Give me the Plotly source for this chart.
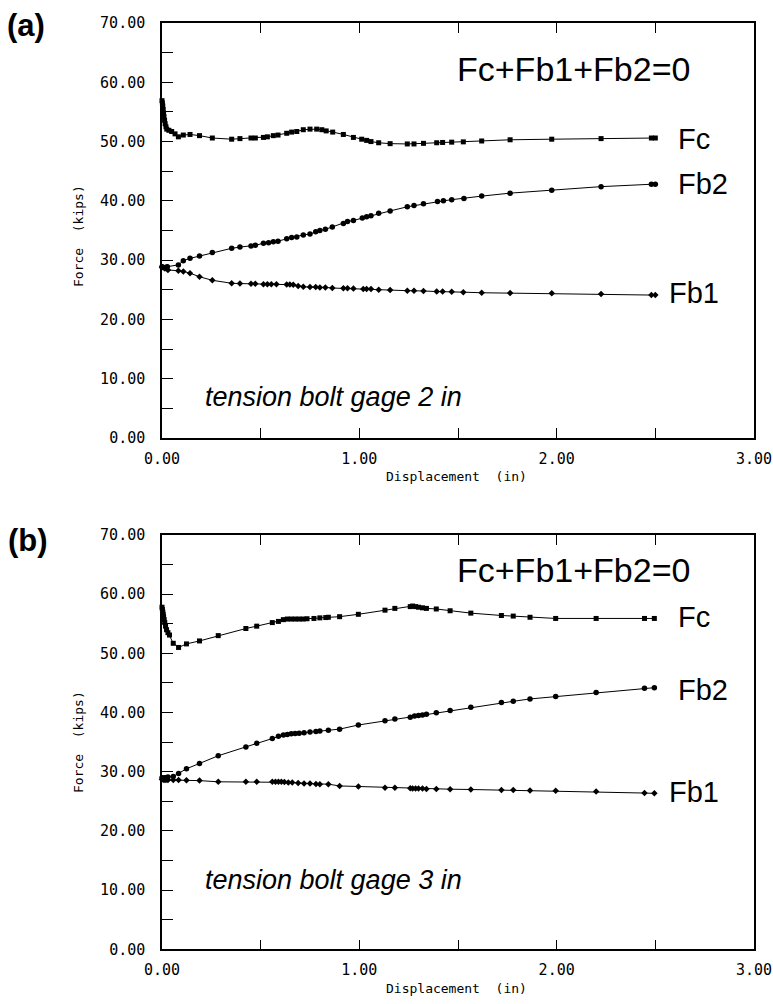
import plotly.graph_objects as go

# ---------------- data: panel (a) tension bolt gage 2 in ----------------
a_fc_x = [0, 0.002, 0.004, 0.006, 0.008, 0.010, 0.013, 0.016, 0.020, 0.024, 0.035, 0.049, 0.066,
          0.083, 0.108, 0.142, 0.19, 0.255, 0.353, 0.395, 0.451, 0.473, 0.514, 0.534, 0.564, 0.588,
          0.632, 0.657, 0.683, 0.716, 0.75, 0.784, 0.81, 0.832, 0.865, 0.919, 0.97, 1.012, 1.037,
          1.059, 1.098, 1.156, 1.243, 1.277, 1.325, 1.392, 1.422, 1.468, 1.527, 1.62, 1.764, 1.975,
          2.225, 2.48, 2.50]
a_fc_y = [56.9, 56.5, 56.0, 55.4, 54.8, 54.2, 53.6, 53.0, 52.5, 52.1, 51.9, 51.7, 51.3,
          50.8, 51.1, 51.2, 51.0, 50.6, 50.4, 50.5, 50.6, 50.6, 50.7, 50.8, 51.0, 51.1,
          51.4, 51.6, 51.7, 52.0, 52.1, 52.1, 52.0, 51.8, 51.6, 51.2, 50.7, 50.4, 50.2,
          50.0, 49.8, 49.65, 49.6, 49.6, 49.7, 49.8, 49.85, 49.9, 49.95, 50.1, 50.3, 50.4,
          50.5, 50.6, 50.6]

a_fb2_x = [0, 0.005, 0.011, 0.016, 0.022, 0.027, 0.083, 0.108, 0.142, 0.19, 0.255, 0.353, 0.395,
           0.451, 0.473, 0.514, 0.54, 0.564, 0.588, 0.632, 0.657, 0.683, 0.716, 0.75, 0.779, 0.80,
           0.828, 0.863, 0.919, 0.94, 0.97, 1.015, 1.037, 1.059, 1.098, 1.156, 1.243, 1.277, 1.325,
           1.396, 1.426, 1.468, 1.53, 1.62, 1.764, 1.975, 2.225, 2.48, 2.50]
a_fb2_y = [28.9, 28.8, 28.7, 28.7, 28.8, 28.9, 29.2, 29.9, 30.3, 30.7, 31.3, 32.0, 32.2,
           32.4, 32.5, 32.85, 32.95, 33.1, 33.2, 33.6, 33.8, 33.9, 34.25, 34.4, 34.8, 35.0,
           35.2, 35.6, 36.2, 36.5, 36.7, 37.1, 37.3, 37.5, 37.9, 38.3, 39.0, 39.2, 39.5,
           39.9, 40.0, 40.2, 40.4, 40.8, 41.3, 41.8, 42.4, 42.8, 42.8]

a_fb1_x = [0, 0.015, 0.03, 0.083, 0.108, 0.142, 0.19, 0.255, 0.353, 0.395, 0.451, 0.473, 0.514,
           0.534, 0.554, 0.58, 0.632, 0.648, 0.665, 0.69, 0.716, 0.75, 0.779, 0.80, 0.828, 0.863,
           0.919, 0.94, 0.97, 1.02, 1.037, 1.059, 1.098, 1.156, 1.243, 1.277, 1.325, 1.392, 1.422,
           1.468, 1.527, 1.62, 1.764, 1.975, 2.225, 2.48, 2.50]
a_fb1_y = [28.8, 28.6, 28.35, 28.2, 28.1, 27.8, 27.2, 26.6, 26.1, 26.05, 26.0, 26.0, 25.95,
           25.95, 25.95, 25.95, 25.9, 25.9, 25.85, 25.65, 25.5, 25.45, 25.45, 25.4, 25.4, 25.3,
           25.25, 25.25, 25.2, 25.15, 25.15, 25.15, 25.0, 24.95, 24.85, 24.85, 24.8, 24.7, 24.7,
           24.65, 24.6, 24.5, 24.45, 24.4, 24.3, 24.1, 24.1]

# ---------------- data: panel (b) tension bolt gage 3 in ----------------
b_fc_x = [0, 0.002, 0.004, 0.006, 0.008, 0.011, 0.014, 0.018, 0.023, 0.03, 0.038, 0.057, 0.084,
          0.124, 0.19, 0.285, 0.425, 0.48, 0.559, 0.59, 0.615, 0.635, 0.655, 0.675, 0.695, 0.715,
          0.735, 0.77, 0.80, 0.83, 0.843, 0.90, 0.995, 1.13, 1.18, 1.258, 1.27, 1.285, 1.30, 1.32,
          1.34, 1.39, 1.46, 1.565, 1.72, 1.78, 1.865, 1.995, 2.2, 2.445, 2.495]
b_fc_y = [57.8, 57.4, 57.0, 56.6, 56.2, 55.7, 55.2, 54.6, 54.0, 53.5, 53.1, 51.7, 51.0,
          51.6, 52.1, 53.0, 54.2, 54.6, 55.2, 55.4, 55.7, 55.8, 55.8, 55.8, 55.8, 55.8,
          55.85, 55.9, 56.0, 56.05, 56.1, 56.2, 56.6, 57.3, 57.6, 57.9, 58.0, 57.9, 57.8, 57.7,
          57.6, 57.5, 57.2, 56.8, 56.4, 56.3, 56.1, 55.9, 55.9, 55.9, 55.9]

b_fb2_x = [0, 0.005, 0.01, 0.015, 0.02, 0.03, 0.057, 0.084, 0.124, 0.19, 0.285, 0.425, 0.48,
           0.559, 0.59, 0.615, 0.635, 0.655, 0.675, 0.695, 0.72, 0.75, 0.78, 0.80, 0.843, 0.90,
           0.995, 1.13, 1.18, 1.258, 1.28, 1.30, 1.32, 1.34, 1.39, 1.46, 1.565, 1.72, 1.78, 1.865,
           1.995, 2.2, 2.445, 2.495]
b_fb2_y = [29.0, 28.9, 28.9, 29.0, 29.0, 29.1, 29.2, 29.7, 30.5, 31.4, 32.7, 34.2, 34.8,
           35.6, 36.0, 36.2, 36.3, 36.4, 36.45, 36.5, 36.6, 36.7, 36.8, 36.9, 37.0, 37.2,
           37.9, 38.6, 38.9, 39.2, 39.4, 39.5, 39.6, 39.7, 39.95, 40.35, 40.9, 41.7, 41.9, 42.3,
           42.7, 43.4, 44.1, 44.2]

b_fb1_x = [0, 0.01, 0.02, 0.03, 0.057, 0.084, 0.124, 0.19, 0.285, 0.425, 0.48, 0.559, 0.575,
           0.59, 0.605, 0.62, 0.64, 0.66, 0.69, 0.72, 0.75, 0.78, 0.80, 0.843, 0.90, 0.995, 1.13,
           1.18, 1.258, 1.27, 1.285, 1.30, 1.32, 1.34, 1.39, 1.46, 1.565, 1.72, 1.78, 1.865, 1.995,
           2.2, 2.445, 2.495]
b_fb1_y = [28.7, 28.6, 28.6, 28.6, 28.6, 28.6, 28.55, 28.5, 28.3, 28.3, 28.3, 28.3, 28.3,
           28.3, 28.3, 28.25, 28.2, 28.2, 28.1, 28.0, 28.0, 27.95, 27.9, 27.9, 27.6, 27.5, 27.3,
           27.3, 27.2, 27.15, 27.15, 27.15, 27.15, 27.1, 27.1, 27.05, 27.0, 26.9, 26.9, 26.85, 26.8,
           26.65, 26.4, 26.35]

x_ticks = [0, 1, 2, 3]
y_ticks = [0, 10, 20, 30, 40, 50, 60, 70]
equation = "Fc+Fb1+Fb2=0"
panel_notes = ["tension bolt gage 2 in", "tension bolt gage 3 in"]

W, H = 773, 1004
TICK_FONT = dict(family="DejaVu Sans Mono", size=15, color="black")


def py(px):
    return 1 - px / H


fig = go.Figure()

panels = [
    dict(xa="x", ya="y", fc=(a_fc_x, a_fc_y), fb2=(a_fb2_x, a_fb2_y), fb1=(a_fb1_x, a_fb1_y)),
    dict(xa="x2", ya="y2", fc=(b_fc_x, b_fc_y), fb2=(b_fb2_x, b_fb2_y), fb1=(b_fb1_x, b_fb1_y)),
]

line = dict(color="black", width=1)
for p in panels:
    fig.add_trace(go.Scatter(x=p["fc"][0], y=p["fc"][1], xaxis=p["xa"], yaxis=p["ya"],
                             mode="lines+markers", line=line, cliponaxis=False,
                             marker=dict(symbol="square", size=5, color="black")))
    fig.add_trace(go.Scatter(x=p["fb2"][0], y=p["fb2"][1], xaxis=p["xa"], yaxis=p["ya"],
                             mode="lines+markers", line=line, cliponaxis=False,
                             marker=dict(symbol="circle", size=5.5, color="black")))
    fig.add_trace(go.Scatter(x=p["fb1"][0], y=p["fb1"][1], xaxis=p["xa"], yaxis=p["ya"],
                             mode="lines+markers", line=line, cliponaxis=False,
                             marker=dict(symbol="diamond", size=5, color="black")))

xdom = [162 / W, 754 / W]
ydoms = [[py(438), py(23)], [py(949.3), py(535)]]

xcommon = dict(range=[0, 3], tickvals=x_ticks, tickformat=".2f", ticks="inside", ticklen=10,
               tickcolor="black", tickwidth=1, showline=True, linecolor="black", linewidth=1.5,
               mirror="ticks", showgrid=False, zeroline=False, tickfont=TICK_FONT,
               minor=dict(dtick=0.5, ticks="inside", ticklen=10, tickcolor="black", tickwidth=1),
               ticklabelstandoff=6, domain=xdom, fixedrange=True, automargin=False)
ycommon = dict(range=[0, 70], tickvals=y_ticks, tickformat=".2f", ticks="inside", ticklen=11,
               tickcolor="black", tickwidth=1, showline=True, linecolor="black", linewidth=1.5,
               mirror=True, showgrid=False, zeroline=False, tickfont=TICK_FONT,
               minor=dict(dtick=5, ticks="inside", ticklen=11, tickcolor="black", tickwidth=1),
               ticklabelstandoff=12, fixedrange=True, automargin=False)

fig.update_layout(
    xaxis=dict(xcommon, anchor="y"),
    yaxis=dict(ycommon, anchor="x", domain=ydoms[0]),
    xaxis2=dict(xcommon, anchor="y2"),
    yaxis2=dict(ycommon, anchor="x2", domain=ydoms[1]),
)

ann = []
letter_font = dict(family="Liberation Sans", size=31, color="black")
ann.append(dict(text="<b>(a)</b>", x=26 / W, y=py(26), xref="paper", yref="paper",
                xanchor="center", yanchor="middle", showarrow=False, font=letter_font))
ann.append(dict(text="<b>(b)</b>", x=28 / W, y=py(540), xref="paper", yref="paper",
                xanchor="center", yanchor="middle", showarrow=False, font=letter_font))

label_font = dict(family="Liberation Sans", size=29, color="black")
eq_font = dict(family="Liberation Sans", size=34, color="black")
note_font = dict(family="Liberation Sans", size=27, color="black")
title_font = dict(family="DejaVu Sans Mono", size=13, color="black")

specs = [
    dict(xr="x", yr="y", eq_y=62.3, fc=50.5, fb2=42.9, fb1=24.5, note_y=6.9, note=panel_notes[0],
         ytitle_px=236, xtitle_px=476),
    dict(xr="x2", yr="y2", eq_y=64.1, fc=56.1, fb2=43.8, fb1=26.6, note_y=11.7, note=panel_notes[1],
         ytitle_px=742, xtitle_px=988),
]
for s in specs:
    ann.append(dict(text=equation, x=1.485, y=s["eq_y"], xref=s["xr"], yref=s["yr"],
                    xanchor="left", yanchor="middle", showarrow=False, font=eq_font))
    ann.append(dict(text="Fc", x=2.605, y=s["fc"], xref=s["xr"], yref=s["yr"],
                    xanchor="left", yanchor="middle", showarrow=False, font=label_font))
    ann.append(dict(text="Fb2", x=2.605, y=s["fb2"], xref=s["xr"], yref=s["yr"],
                    xanchor="left", yanchor="middle", showarrow=False, font=label_font))
    ann.append(dict(text="Fb1", x=2.56, y=s["fb1"], xref=s["xr"], yref=s["yr"],
                    xanchor="left", yanchor="middle", showarrow=False, font=label_font))
    ann.append(dict(text="<i>" + s["note"] + "</i>", x=0.208, y=s["note_y"], xref=s["xr"],
                    yref=s["yr"], xanchor="left", yanchor="middle", showarrow=False, font=note_font))
    ann.append(dict(text="Force  (kips)", x=78 / W, y=py(s["ytitle_px"]), xref="paper", yref="paper",
                    xanchor="center", yanchor="middle", textangle=-90, showarrow=False,
                    font=title_font))
    ann.append(dict(text="Displacement  (in)", x=456 / W, y=py(s["xtitle_px"]),
                    xref="paper", yref="paper", xanchor="center", yanchor="middle",
                    showarrow=False, font=title_font))

fig.update_layout(
    annotations=ann,
    width=W, height=H,
    margin=dict(l=0, r=0, t=0, b=0),
    paper_bgcolor="white", plot_bgcolor="white",
    showlegend=False,
)

fig.write_html("out.html", config={"displayModeBar": False})
